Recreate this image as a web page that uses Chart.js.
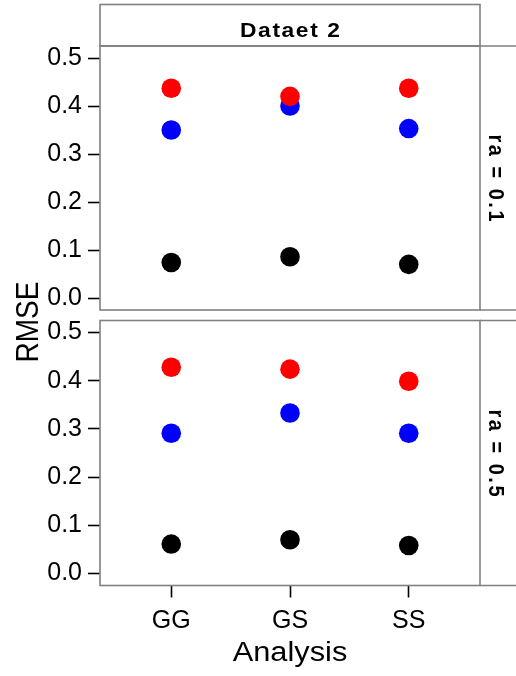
<!DOCTYPE html>
<html>
<head>
<meta charset="utf-8">
<script src="https://cdn.jsdelivr.net/npm/chart.js@4/dist/chart.umd.min.js"></script>
<style>
  html, body { margin: 0; padding: 0; background: #ffffff; }
  #wrap { position: relative; width: 516px; height: 676px; overflow: hidden; }
  #wrap canvas { position: absolute; left: 0; top: 0; }
</style>
</head>
<body>
<div id="wrap">
  <canvas id="panelTop" width="516" height="676"></canvas>
  <canvas id="panelBottom" width="516" height="676"></canvas>
</div>
<script>
// Categories on the x axis and y tick values
const categories = ['GG', 'GS', 'SS'];
const yTickValues = [0.0, 0.1, 0.2, 0.3, 0.4, 0.5];
const stripTitle = 'Dataet 2';
const panelLabels = ['ra = 0.1', 'ra = 0.5'];
const xTitle = 'Analysis';
const yTitle = 'RMSE';

// ra = 0.1
const redRa01   = [0.437, 0.420, 0.437];
const blueRa01  = [0.350, 0.400, 0.353];
const blackRa01 = [0.074, 0.086, 0.070];

// ra = 0.5
const redRa05   = [0.428, 0.424, 0.399];
const blueRa05  = [0.291, 0.333, 0.291];
const blackRa05 = [0.061, 0.070, 0.058];

const FONT = "'Liberation Sans', Arial, sans-serif";
const FRAME = '#808080';
const WIDE = 1.14; // horizontal widening of the free-standing labels

function points(values) {
  return values.map((v, i) => ({ x: i + 1, y: v }));
}

function dataset(values, color, order) {
  return {
    data: points(values),
    backgroundColor: color,
    borderWidth: 0,
    pointRadius: 9.8,
    pointHoverRadius: 9.8,
    order: order
  };
}

// draw text centred on (0, y) with extra letter spacing
function spacedText(ctx, text, y, spacing) {
  const chars = Array.from(text);
  const widths = chars.map(c => ctx.measureText(c).width);
  const total = widths.reduce((s, w) => s + w, 0) + spacing * (chars.length - 1);
  let cx = -total / 2;
  ctx.textAlign = 'left';
  chars.forEach((c, i) => {
    ctx.fillText(c, cx, y);
    cx += widths[i] + spacing;
  });
}

// Panel frame, top strip, right strip and the axis titles
const facetFrame = {
  id: 'facetFrame',
  afterDraw(chart, args, opts) {
    const { ctx, chartArea: a } = chart;
    const W = chart.width;
    ctx.save();
    ctx.strokeStyle = FRAME;
    ctx.lineWidth = 1.6;
    ctx.strokeRect(a.left, a.top, a.right - a.left, a.bottom - a.top);
    ctx.beginPath();
    ctx.moveTo(a.right, a.top); ctx.lineTo(W, a.top);
    ctx.moveTo(a.right, a.bottom); ctx.lineTo(W, a.bottom);
    ctx.stroke();
    ctx.fillStyle = '#000';
    ctx.textBaseline = 'alphabetic';
    if (opts.topStrip) {
      ctx.strokeRect(a.left, 4.5, a.right - a.left, a.top - 4.5);
      ctx.save();
      ctx.translate((a.left + a.right) / 2, 0);
      ctx.scale(WIDE, 1);
      ctx.font = 'bold 20px ' + FONT;
      spacedText(ctx, opts.topStrip, 36.7, 1.4);
      ctx.restore();
    }
    // rotated panel label in the right strip
    ctx.save();
    ctx.translate(489, (a.top + a.bottom) / 2);
    ctx.rotate(Math.PI / 2);
    ctx.scale(1, WIDE);
    ctx.font = 'bold 20px ' + FONT;
    spacedText(ctx, opts.sideLabel, 0, 2.5);
    ctx.restore();
    if (opts.yTitle) {
      ctx.save();
      ctx.translate(37.5, 322);
      ctx.rotate(-Math.PI / 2);
      ctx.scale(1, WIDE);
      ctx.font = '28px ' + FONT;
      ctx.textAlign = 'center';
      ctx.fillText(opts.yTitle, 0, 0);
      ctx.restore();
    }
    if (opts.xTitle) {
      ctx.save();
      ctx.translate((a.left + a.right) / 2, 661);
      ctx.scale(WIDE, 1);
      ctx.font = '27px ' + FONT;
      ctx.textAlign = 'center';
      ctx.fillText(opts.xTitle, 0, 0);
      ctx.restore();
    }
    ctx.restore();
  }
};

function makeChart(id, red, blue, black, cfg) {
  return new Chart(document.getElementById(id), {
    type: 'scatter',
    data: {
      datasets: [
        dataset(red, '#FF0000', 0),
        dataset(blue, '#0000FF', 1),
        dataset(black, '#000000', 2)
      ]
    },
    options: {
      responsive: false,
      animation: false,
      devicePixelRatio: 1,
      events: [],
      layout: { padding: cfg.padding },
      plugins: {
        legend: { display: false },
        tooltip: { enabled: false },
        facetFrame: cfg.frame
      },
      scales: {
        x: {
          type: 'linear',
          min: 0.4,
          max: 3.6,
          display: cfg.showX,
          afterBuildTicks(scale) { scale.ticks = categories.map((c, i) => ({ value: i + 1 })); },
          afterFit(scale) { if (cfg.xHeight) scale.height = cfg.xHeight; },
          ticks: {
            callback: (v) => categories[v - 1],
            color: '#000',
            font: { family: FONT, size: 25 },
            padding: 9,
            maxRotation: 0
          },
          grid: {
            drawOnChartArea: false,
            drawTicks: true,
            tickLength: 12,
            tickColor: '#000',
            tickWidth: 1.6
          },
          border: { display: false },
          title: { display: false }
        },
        y: {
          min: -0.025,
          max: 0.525,
          afterBuildTicks(scale) { scale.ticks = yTickValues.map(v => ({ value: v })); },
          afterFit(scale) { scale.width = 100; },
          ticks: {
            callback: (v) => v.toFixed(1),
            color: '#000',
            font: { family: FONT, size: 25 },
            padding: 6
          },
          grid: {
            drawOnChartArea: false,
            drawTicks: true,
            tickLength: 12,
            tickColor: '#000',
            tickWidth: 1.6
          },
          border: { display: false }
        }
      }
    },
    plugins: [facetFrame]
  });
}

makeChart('panelTop', redRa01, blueRa01, blackRa01, {
  padding: { top: 46, right: 36, bottom: 366, left: 0 },
  showX: false,
  frame: { topStrip: stripTitle, sideLabel: panelLabels[0] }
});

makeChart('panelBottom', redRa05, blueRa05, blackRa05, {
  padding: { top: 320.5, right: 36, bottom: 0, left: 0 },
  showX: true,
  xHeight: 90.5,
  frame: { sideLabel: panelLabels[1], yTitle: yTitle, xTitle: xTitle }
});
</script>
</body>
</html>
